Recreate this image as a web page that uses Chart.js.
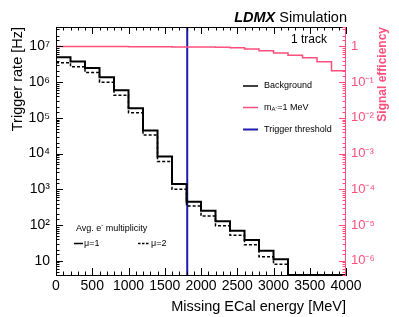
<!DOCTYPE html>
<html><head><meta charset="utf-8">
<script src="https://cdn.jsdelivr.net/npm/chart.js@4/dist/chart.umd.min.js"></script>
<style>html,body{margin:0;padding:0;background:#fff}canvas{display:block}</style>
</head><body>
<canvas id="c" width="399" height="317"></canvas>
<script>
// ---- data ----
const binLow = [0,200,400,600,800,1000,1200,1400,1600,1800,2000,2200,2400,2600,2800,3000,3200,3400,3600,3800];
const xMax = 4000;
const rateMu1 = [5.0e6,3.8e6,2.5e6,1.38e6,5.9e5,1.85e5,4.4e4,8.3e3,1.4e3,450,250,128,69,38,19,11,0,0,0,0];
const rateMu2 = [3.5e6,2.7e6,1.85e6,1.0e6,4.3e5,1.4e5,3.3e4,6.0e3,1.0e3,340,178,96,52,28,13,8,0,0,0,0];
const sigEff  = [1.0,1.0,0.99,0.99,0.99,0.98,0.98,0.98,0.97,0.97,0.96,0.95,0.92,0.85,0.76,0.66,0.57,0.48,0.37,0.21];
const triggerThreshold = 1810;
const rateRange = [4, 3.5e7];
const effRange = [4e-7, 3.5];
const legendLabels = ['Background', 'm', "A'", '=1 MeV', 'Trigger threshold'];
const multLabels = ['Avg. e', '-', ' multiplicity', 'μ=1', 'μ=2'];
const titleTexts = ['LDMX', ' Simulation', '1 track'];

const FONT = '"Liberation Sans", Arial, Helvetica, sans-serif';
const PINK = '#fe4f7d';
const BLUE = '#1c1cae';
Chart.defaults.font.family = FONT;
Chart.defaults.color = '#000';

const SUP = {'0':'⁰','1':'¹','2':'²','3':'³','4':'⁴','5':'⁵','6':'⁶','7':'⁷','8':'⁸','9':'⁹','-':'⁻'};
function isPow10(v){ const e = Math.log10(v); return Math.abs(e - Math.round(e)) < 1e-6; }
function pow10Label(v){
  if (!isPow10(v)) return '';
  const r = Math.round(Math.log10(v));
  if (r === 0) return '1';
  if (r === 1) return '10';
  return '10' + String(r).split('').map(c => SUP[c]).join('');
}
// empty bins are drawn along the axis floor, as the original histogram does
function hist(values, floor){
  const pts = binLow.map((x, i) => ({x: x, y: values[i] > 0 ? values[i] : floor}));
  const last = values[values.length - 1];
  pts.push({x: xMax, y: last > 0 ? last : floor});
  return pts;
}

const decor = {
  id: 'decor',
  afterDraw(chart){
    const {ctx, chartArea: a, scales} = chart;
    const sx = scales.x, sy = scales.y, sy2 = scales.y2;
    ctx.save();
    const seg = (x1,y1,x2,y2) => { ctx.beginPath(); ctx.moveTo(x1,y1); ctx.lineTo(x2,y2); ctx.stroke(); };
    ctx.lineWidth = 1;
    ctx.strokeStyle = '#000';
    for (let v = 0; v <= xMax; v += 100) {
      const px = Math.round(sx.getPixelForValue(v)) + 0.5;
      const L = v % 500 === 0 ? 7 : 3.5;
      seg(px, a.bottom, px, a.bottom - L);
      seg(px, a.top, px, a.top + L);
    }
    seg(a.left, a.top + 0.5, a.right, a.top + 0.5);
    sy.ticks.forEach(t => {
      const py = Math.round(sy.getPixelForValue(t.value)) + 0.5;
      const L = isPow10(t.value) ? 7 : 3.5;
      seg(a.left, py, a.left + L, py);
    });
    ctx.strokeStyle = PINK;
    sy2.ticks.forEach(t => {
      const py = Math.round(sy2.getPixelForValue(t.value)) + 0.5;
      const L = isPow10(t.value) ? 7 : 3.5;
      seg(a.right, py, a.right - L, py);
    });
    seg(a.right - 0.5, a.top, a.right - 0.5, a.bottom);

    // header text
    ctx.fillStyle = '#000';
    ctx.textBaseline = 'alphabetic';
    const fB = 'italic bold 14.5px ' + FONT, fN = '14.5px ' + FONT;
    ctx.font = fN; const wS = ctx.measureText(titleTexts[1]).width;
    ctx.font = fB; const wL = ctx.measureText(titleTexts[0]).width;
    const xEnd = a.right + 1;
    ctx.font = fB; ctx.fillText(titleTexts[0], xEnd - wS - wL, 21.5);
    ctx.font = fN; ctx.fillText(titleTexts[1], xEnd - wS, 21.5);
    ctx.font = '12px ' + FONT; ctx.textBaseline = 'middle';
    ctx.fillText(titleTexts[2], 291, 40);

    // upper legend
    const lx0 = 243, lx1 = 258, tx = 264;
    const rows = [86, 107.5, 129.5];
    ctx.lineWidth = 1.5; ctx.strokeStyle = '#000'; seg(lx0, rows[0], lx1, rows[0]);
    ctx.strokeStyle = PINK; seg(lx0, rows[1], lx1, rows[1]);
    ctx.lineWidth = 2; ctx.strokeStyle = BLUE; seg(lx0, rows[2], lx1, rows[2]);
    ctx.fillStyle = '#000'; ctx.font = '9px ' + FONT;
    ctx.fillText(legendLabels[0], tx, rows[0]);
    let cx = tx;
    ctx.fillText(legendLabels[1], cx, rows[1]); cx += ctx.measureText(legendLabels[1]).width;
    ctx.font = '6px ' + FONT; ctx.fillText(legendLabels[2], cx, rows[1] + 2); cx += ctx.measureText(legendLabels[2]).width + 0.5;
    ctx.font = '9px ' + FONT; ctx.fillText(legendLabels[3], cx, rows[1]);
    ctx.fillText(legendLabels[4], tx, rows[2]);

    // multiplicity legend
    ctx.font = '9px ' + FONT;
    let mx = 76; const my = 228.5;
    ctx.fillText(multLabels[0], mx, my); mx += ctx.measureText(multLabels[0]).width;
    ctx.font = '6px ' + FONT; ctx.fillText(multLabels[1], mx, my - 3); mx += ctx.measureText(multLabels[1]).width;
    ctx.font = '9px ' + FONT; ctx.fillText(multLabels[2], mx, my);
    const ly = 243.5;
    ctx.lineWidth = 1.5; ctx.strokeStyle = '#000';
    seg(74, ly, 83, ly);
    ctx.fillText(multLabels[3], 84, ly);
    ctx.setLineDash([2.5, 1.5]); seg(138, ly, 150, ly); ctx.setLineDash([]);
    ctx.fillText(multLabels[4], 151, ly);

    // right axis title
    ctx.save();
    ctx.translate(383, a.top);
    ctx.rotate(-Math.PI / 2);
    ctx.font = 'bold 12px ' + FONT; ctx.fillStyle = PINK;
    ctx.textAlign = 'right'; ctx.textBaseline = 'middle';
    ctx.fillText('Signal efficiency', 0, 0);
    ctx.restore();
    ctx.restore();
  }
};

new Chart(document.getElementById('c'), {
  type: 'line',
  data: {
    datasets: [
      {label: 'μ=1', data: hist(rateMu1, rateRange[0]), yAxisID: 'y', borderColor: '#000', borderWidth: 2, stepped: true, pointRadius: 0, fill: false},
      {label: 'μ=2', data: hist(rateMu2, rateRange[0]), yAxisID: 'y', borderColor: '#000', borderWidth: 1.5, borderDash: [3, 2], stepped: true, pointRadius: 0, fill: false},
      {label: "m_A'=1 MeV", data: hist(sigEff, effRange[0]), yAxisID: 'y2', borderColor: PINK, borderWidth: 1.5, stepped: true, pointRadius: 0, fill: false},
      {label: 'Trigger threshold', data: [{x: triggerThreshold, y: rateRange[0]}, {x: triggerThreshold, y: rateRange[1]}], yAxisID: 'y', borderColor: BLUE, borderWidth: 2, pointRadius: 0, fill: false}
    ]
  },
  options: {
    responsive: false, animation: false, events: [],
    layout: {padding: {top: 27, left: 0, right: 0, bottom: 0}},
    plugins: {legend: {display: false}, tooltip: {enabled: false}},
    scales: {
      x: {
        type: 'linear', position: 'bottom', min: 0, max: xMax, bounds: 'data',
        ticks: {stepSize: 500, callback: v => String(v), font: {size: 14}, color: '#000', padding: 3, maxRotation: 0, autoSkip: false},
        grid: {display: true, drawOnChartArea: false, drawTicks: false},
        border: {display: true, color: '#000', width: 1},
        title: {display: true, text: 'Missing ECal energy [MeV]', align: 'end', font: {size: 14.5}, color: '#000', padding: {top: 3, bottom: 1}},
        afterFit(s){ s.height = 42; }
      },
      y: {
        type: 'logarithmic', position: 'left', min: rateRange[0], max: rateRange[1], bounds: 'data',
        ticks: {callback: v => pow10Label(v), font: {size: 14}, color: '#000', padding: 6, autoSkip: false},
        grid: {display: true, drawOnChartArea: false, drawTicks: false},
        border: {display: true, color: '#000', width: 1},
        title: {display: true, text: 'Trigger rate [Hz]', align: 'end', font: {size: 14.5}, color: '#000', padding: {top: 9, bottom: 9}},
        afterFit(s){ s.width = 56; }
      },
      y2: {
        type: 'logarithmic', position: 'right', min: effRange[0], max: effRange[1], bounds: 'data',
        ticks: {callback: v => pow10Label(v), font: {size: 13}, color: PINK, padding: 5, autoSkip: false},
        grid: {display: false, drawOnChartArea: false, drawTicks: false},
        border: {display: false},
        title: {display: false},
        afterFit(s){ s.width = 53; }
      }
    }
  },
  plugins: [decor]
});
</script>
</body></html>
